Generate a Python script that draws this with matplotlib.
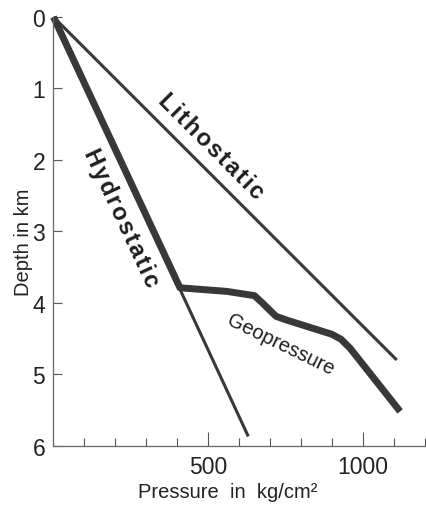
import matplotlib
matplotlib.use("Agg")
import matplotlib.pyplot as plt

# Data (pressure in kg/cm², depth in km)
litho_p = [0, 1110]
litho_d = [0, 4.80]
hydro_p = [0, 630]
hydro_d = [0, 5.87]
geo_p = [0, 409, 560, 650, 675, 720, 760, 900, 930, 960, 1121]
geo_d = [0, 3.79, 3.84, 3.90, 4.00, 4.19, 4.25, 4.44, 4.51, 4.64, 5.52]

y_ticks = [0, 1, 2, 3, 4, 5, 6]
x_major = [500, 1000]
x_minor = [100, 200, 300, 400, 600, 700, 800, 900, 1100, 1200]

W, H = 427, 506
fig = plt.figure(figsize=(W / 100, H / 100), dpi=100)
fig.patch.set_facecolor("white")
plt.rcParams["font.family"] = ["Liberation Sans", "DejaVu Sans"]

ax = fig.add_axes([53.5 / W, 1 - 446.7 / H, (W - 53.5) / W, (446.7 - 18) / H])
ax.set_xlim(0, 1208)
ax.set_ylim(6, 0)

lc = "#383838"
ax.plot(litho_p, litho_d, color=lc, lw=2.2, solid_capstyle="butt", clip_on=False)
ax.plot(hydro_p, hydro_d, color=lc, lw=2.2, solid_capstyle="butt", clip_on=False)
ax.plot(geo_p, geo_d, color=lc, lw=5.0, solid_capstyle="butt",
        solid_joinstyle="round", clip_on=False)

for s in ["top", "right"]:
    ax.spines[s].set_visible(False)
for s in ["left", "bottom"]:
    ax.spines[s].set_color("#666666")
    ax.spines[s].set_linewidth(0.9)

ax.set_yticks(y_ticks)
ax.set_yticklabels([str(v) for v in y_ticks])
ax.set_xticks(x_major)
ax.set_xticklabels([str(v) for v in x_major])
ax.set_xticks(x_minor, minor=True)
ax.tick_params(axis="y", direction="in", length=6.5, width=0.8, color="#555555",
               labelsize=16.5, pad=6, labelcolor="#222222")
ax.tick_params(axis="x", which="major", direction="in", length=10, width=0.8,
               color="#555555", labelsize=16.5, pad=7, labelcolor="#222222")
ax.tick_params(axis="x", which="minor", direction="in", length=6, width=0.8,
               color="#555555")

ax.set_ylabel("Depth in km", fontsize=14.5, color="#222222", va="center")
ax.yaxis.set_label_coords(-0.079, 0.4775)
ax.set_xlabel("Pressure  in  kg/cm²", fontsize=14.5, color="#222222", va="center")
ax.xaxis.set_label_coords(0.466, -0.106)

hs = "\u200a"
ax.text(508, 1.80, hs.join("Lithostatic"), rotation=-45, rotation_mode="anchor",
        ha="center", va="center", fontsize=17, fontweight="bold", color="#1e1e1e")
ax.text(220, 2.80, hs.join("Hydrostatic"), rotation=-65, rotation_mode="anchor",
        ha="center", va="center", fontsize=17, fontweight="bold", color="#1e1e1e")
ax.text(733, 4.58, "Geopressure", rotation=-26, rotation_mode="anchor",
        ha="center", va="center", fontsize=14.5, color="#1e1e1e")

fig.savefig("out.png", dpi=100, facecolor="white")
